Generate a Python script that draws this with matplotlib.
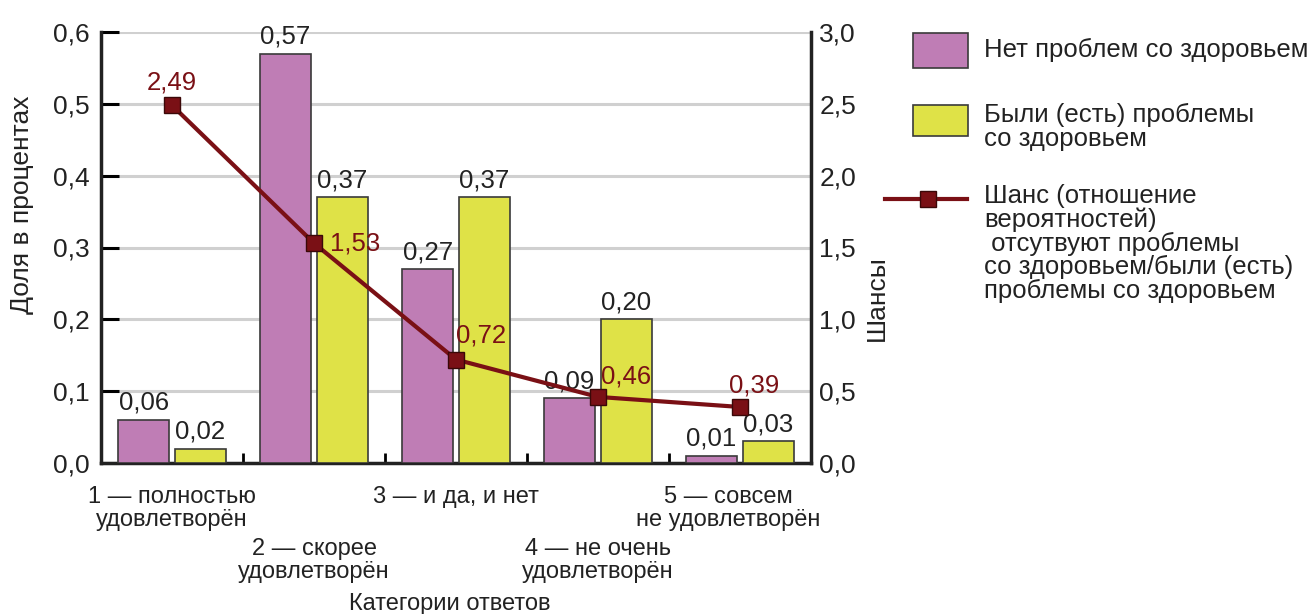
import numpy as np
import matplotlib.pyplot as plt
from matplotlib.lines import Line2D
from matplotlib.patches import Rectangle

plt.rcParams['font.family'] = ['Liberation Sans', 'DejaVu Sans']

# Данные
categories = ['1 — полностью\nудовлетворён', '2 — скорее\nудовлетворён', '3 — и да, и нет',
              '4 — не очень\nудовлетворён', '5 — совсем\nне удовлетворён']
no_problems = [0.06, 0.57, 0.27, 0.09, 0.01]
had_problems = [0.02, 0.37, 0.37, 0.20, 0.03]
odds = [2.49, 1.53, 0.72, 0.46, 0.39]

left_ticks = [0.0, 0.1, 0.2, 0.3, 0.4, 0.5, 0.6]
right_ticks = [0.0, 0.5, 1.0, 1.5, 2.0, 2.5, 3.0]

pink = '#bf7db5'
yellow = '#dfe247'
red = '#7a1015'
edge = '#3a3a3a'
txt = '#222222'

W, H = 1315, 614

def fmt(v, n):
    return f'{v:.{n}f}'.replace('.', ',')

def px(x, y):
    # пиксели -> доли фигуры
    return x / W, 1 - y / H

fig = plt.figure(figsize=(W / 100, H / 100), dpi=100)
ax = fig.add_axes([101/W, 1-463/H, 710/W, 431/H])
ax2 = ax.twinx()

x = np.arange(len(categories))
w = 0.36
b1 = ax.bar(x - 0.2, no_problems, w, color=pink, edgecolor=edge, linewidth=1.2, zorder=3)
b2 = ax.bar(x + 0.2, had_problems, w, color=yellow, edgecolor=edge, linewidth=1.2, zorder=3)

for bars, vals in ((b1, no_problems), (b2, had_problems)):
    for r, v in zip(bars, vals):
        ax.text(r.get_x() + r.get_width()/2, v + 0.007, fmt(v, 2), ha='center', va='bottom',
                fontsize=18.5, color=txt, zorder=5)

ax.set_xlim(-0.5, 4.5)
ax.set_ylim(0, 0.6)
ax.set_yticks(left_ticks)
ax.set_yticklabels([fmt(t, 1) for t in left_ticks], fontsize=19, color=txt)
ax.yaxis.grid(True, color='#d0d0d0', linewidth=2.2, zorder=0)
ax.set_axisbelow(True)
ax.tick_params(axis='y', direction='in', length=13, width=2.2, pad=8)
ax.set_xticks([0.5, 1.5, 2.5, 3.5])
ax.set_xticklabels([])
ax.tick_params(axis='x', direction='in', length=7, width=2)
for s in ('left', 'bottom'):
    ax.spines[s].set_linewidth(2.5)
    ax.spines[s].set_color(txt)
ax.spines['top'].set_visible(False)
ax.spines['right'].set_visible(False)

# Линия шансов на правой оси
ax2.plot(x, odds, color=red, linewidth=3, marker='s', markersize=11.5,
         markerfacecolor=red, markeredgecolor='#3a0808', markeredgewidth=1, zorder=4)
ax2.set_ylim(0, 3.0)
ax2.set_yticks(right_ticks)
ax2.set_yticklabels([fmt(t, 1) for t in right_ticks], fontsize=19, color=txt)
ax2.tick_params(axis='y', length=0, pad=6)
ax2.spines['right'].set_linewidth(2.5)
ax2.spines['right'].set_color(txt)
for s in ('top', 'left', 'bottom'):
    ax2.spines[s].set_visible(False)

offsets = [(0, 0.16, 'center'), (0.11, 0.0, 'left'), (0.0, 0.17, 'left'),
           (0.02, 0.14, 'left'), (0.1, 0.15, 'center')]
for xi, v, (dx, dy, ha) in zip(x, odds, offsets):
    ax2.text(xi + dx, v + dy, fmt(v, 2), color=red, fontsize=18.5, ha=ha, va='center', zorder=6)

# Подписи категорий в два яруса
for i, lab in enumerate(categories):
    yy = 486 if i % 2 == 0 else 538
    xx = i - 0.08 if i == 4 else i
    ax.text(xx, 1 - (yy - 32) / 431, lab, ha='center', va='top', fontsize=17,
            linespacing=1.08, color=txt, transform=ax.get_xaxis_transform())

fig.text(*px(450, 604), 'Категории ответов', ha='center', va='center', fontsize=17, color=txt)
fig.text(*px(22, 205), 'Доля в процентах', rotation=90, ha='center', va='center',
         fontsize=19, color=txt)
fig.text(*px(877, 298), 'Шансы', rotation=90, ha='center', va='center',
         fontsize=19, color=txt)

# Легенда справа
fig.add_artist(Rectangle(px(913, 68), 55/W, 35/H, transform=fig.transFigure,
                         facecolor=pink, edgecolor=edge, linewidth=1.2))
fig.add_artist(Rectangle(px(913, 136), 55/W, 31/H, transform=fig.transFigure,
                         facecolor=yellow, edgecolor=edge, linewidth=1.2))
fig.add_artist(Line2D([885/W, 967/W], [1-199/H, 1-199/H], transform=fig.transFigure,
                      color=red, linewidth=3))
fig.add_artist(Line2D([928/W], [1-199/H], transform=fig.transFigure, marker='s',
                      markersize=11.5, markerfacecolor=red, markeredgecolor='#3a0808'))
legend_labels = ['Нет проблем со здоровьем',
                 'Были (есть) проблемы\nсо здоровьем',
                 'Шанс (отношение\nвероятностей)\n отсутвуют проблемы\nсо здоровьем/были (есть)\nпроблемы со здоровьем']
legend_tops = [38, 103, 184]
for lab, top in zip(legend_labels, legend_tops):
    fig.text(*px(984, top), lab, ha='left', va='top', fontsize=18.5, linespacing=0.98, color=txt)

fig.savefig('out.png', dpi=100)
